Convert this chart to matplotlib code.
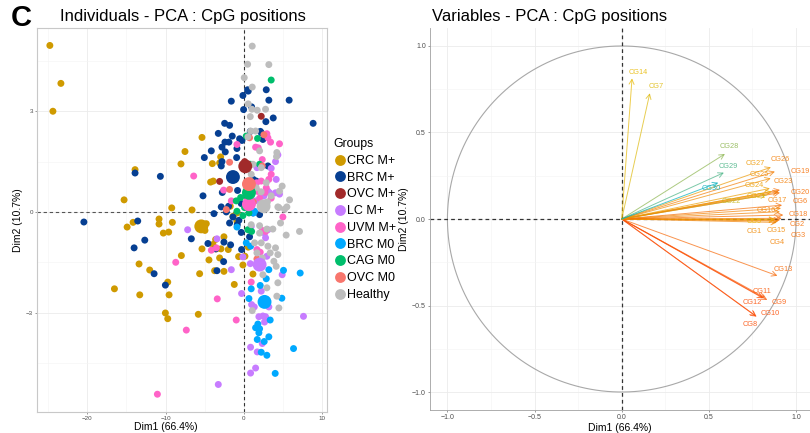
import numpy as np
import matplotlib
matplotlib.use('Agg')
import matplotlib.pyplot as plt
from matplotlib.lines import Line2D
from matplotlib.colors import LinearSegmentedColormap

plt.rcParams['font.family'] = ['Liberation Sans', 'DejaVu Sans']

# ---- individuals (Dim1, Dim2) per group ----
groups = ['CRC M+', 'BRC M+', 'OVC M+', 'LC M+', 'UVM M+', 'BRC M0', 'CAG M0', 'OVC M0', 'Healthy']
group_colors = ['#CF9A00', '#063F92', '#A12A2A', '#C77CFF', '#FF63C8', '#00A9FF', '#00BE6C', '#F8766D', '#BDBDBD']

crc_mp = [(-24.76, 4.96), (-23.35, 3.83), (-24.37, 3.00), (-13.89, 1.26), (-15.29, 0.36), (-16.52, -2.29),
          (-14.90, -0.45), (-14.14, -0.31), (-13.38, -1.55), (-13.29, -2.47), (-12.02, -1.73), (-10.83, -0.21),
          (-10.83, -0.36), (-10.28, -0.63), (-9.60, -0.60), (-9.13, -0.31), (-9.21, 0.12), (-9.72, -2.09),
          (-9.55, -2.47), (-10.02, -3.01), (-9.72, -3.18), (-7.98, -1.30), (-8.03, 1.43), (-7.52, 1.80),
          (-6.62, 0.06), (-5.65, -1.84), (-5.82, -3.05), (-5.35, 2.22), (-5.35, -1.10), (-4.97, -0.55),
          (-5.22, -0.38), (-5.65, -0.46), (-4.80, -0.35), (-4.25, 0.89), (-3.91, 0.92), (-4.03, 1.44),
          (-3.10, 1.46), (-2.97, 1.64), (-4.46, -1.43), (-3.74, -1.75), (-3.52, -1.10), (-3.61, -0.82),
          (-2.93, -1.10), (-2.55, -0.74), (-2.00, -1.12), (-2.55, -1.77), (-1.23, -2.16), (-0.68, -1.33),
          (-0.13, -1.58), (0.13, -1.32), (0.55, -1.05), (1.15, -1.85), (-1.40, -0.13), (-0.89, -0.03),
          (-0.89, -0.28), (-1.74, 0.17), (-3.10, -1.37), (-3.95, -0.97)]
brc_mp = [(-20.42, -0.30), (-13.55, -0.27), (-12.65, -0.84), (-14.01, -1.07), (-11.46, -1.84), (-10.02, -2.18),
          (-13.89, 1.16), (-10.66, 1.06), (-1.61, 3.30), (-0.13, 3.47), (0.47, 3.64), (0.55, 3.60), (0.98, 3.13),
          (-0.04, 3.05), (2.85, 3.64), (3.18, 3.33), (5.77, 3.33), (3.74, 2.80), (2.80, 2.69), (8.83, 2.64),
          (-2.46, 2.64), (-1.83, 2.58), (-3.27, 2.34), (-1.49, 2.26), (-0.55, 2.18), (-2.42, 2.08), (-1.92, 2.08),
          (-2.80, 1.93), (-0.25, 2.13), (-2.38, 1.79), (-4.16, 1.82), (-0.89, 1.89), (-5.05, 1.62), (-2.80, 1.50),
          (-2.89, 1.37), (-0.93, 1.62), (2.42, 2.16), (2.25, 2.35), (2.10, 2.40), (0.81, 2.40), (-5.22, 0.48),
          (-2.76, 0.58), (-0.81, 0.64), (3.06, 1.37), (1.19, 0.97), (1.57, 0.92), (-3.82, -0.05), (-2.89, 0.15),
          (-1.95, 0.17), (-2.25, 0.00), (-0.34, 0.25), (-1.40, -0.15), (-0.64, -0.25), (-1.83, -0.33),
          (-0.85, -0.38), (-0.34, -0.61), (0.72, -0.74), (-6.71, -0.80), (-4.59, -0.94), (-3.61, -1.10),
          (-2.55, -0.90), (-1.70, -0.98), (-2.59, -1.48), (-3.44, -1.75), (-0.30, -1.12), (2.00, -0.08),
          (1.15, -0.03)]
ovc_mp = [(-3.10, 0.91), (2.21, 2.85), (0.10, 1.50)]
lc_mp = [(4.33, 1.70), (4.03, 1.50), (3.48, 1.30), (1.66, 1.32), (4.12, 0.97), (3.06, 0.62), (3.27, 0.57),
         (4.03, 0.57), (4.54, 0.53), (2.55, 0.48), (1.49, 0.33), (-7.18, -0.53), (-3.44, -0.80), (-1.61, -1.72),
         (-0.30, -2.43), (-0.13, -1.34), (0.81, -1.54), (2.93, -1.32), (4.88, -1.87), (0.98, -2.76),
         (1.32, -2.83), (2.21, -2.36), (3.18, -2.83), (1.91, -3.12), (2.76, -3.12), (2.42, -3.10), (2.63, -3.28),
         (7.60, -3.11), (0.85, -4.03), (1.70, -4.17), (2.34, -3.92), (0.85, -4.80), (1.49, -4.65), (-3.27, -5.14),
         (3.06, -0.53), (2.63, -0.63), (0.93, -0.43), (2.76, -0.77)]
uvm_mp = [(2.93, 2.33), (4.54, 2.03), (3.40, 2.08), (-0.89, 2.01), (-6.41, 1.07), (3.06, 2.21), (1.49, 1.93),
          (1.83, 1.91), (2.34, 1.56), (3.48, 1.12), (3.18, 0.97), (2.21, 0.92), (2.85, 0.72), (2.68, 0.58),
          (2.00, 0.41), (1.78, 0.61), (3.48, 0.41), (-2.59, 0.65), (-1.61, 0.33), (1.62, 0.87), (4.97, -0.15),
          (2.34, -0.55), (2.76, -0.58), (-3.52, -1.07), (-4.16, -1.14), (1.66, -1.12), (2.08, -1.20),
          (0.93, -2.09), (-3.40, -2.59), (-0.98, -3.22), (-7.35, -3.52), (-8.70, -1.50), (-11.04, -5.43)]
brc_m0 = [(1.23, -0.03), (-0.89, -0.45), (0.30, -0.92), (0.85, -1.02), (3.18, -1.72), (5.05, -1.74),
          (7.18, -1.82), (2.85, -1.99), (2.08, -2.19), (0.93, -2.29), (0.64, -2.58), (4.84, -2.57), (3.35, -3.22),
          (1.49, -3.45), (2.00, -3.48), (1.91, -3.60), (1.70, -3.80), (3.18, -3.72), (2.59, -3.86), (2.21, -4.18),
          (2.93, -4.27), (6.33, -4.07), (3.99, -4.81), (1.78, -3.34), (1.36, 0.02)]
cag_m0 = [(3.48, 3.93), (1.74, 2.19), (0.30, 2.26), (0.85, 1.42), (2.00, 1.42), (-0.42, 0.43), (-0.98, 0.33),
          (0.08, 0.13), (0.51, -0.53), (0.98, -0.58), (-0.13, -0.11), (-0.89, 0.02), (0.64, -0.03)]
ovc_m0 = [(-1.83, 1.48), (-1.83, 0.67), (0.72, 2.21), (2.34, 1.37), (-2.25, 0.07), (1.66, -1.40), (2.55, 2.30),
          (1.20, 0.30)]
healthy = [(1.06, 4.94), (0.47, 4.40), (3.18, 4.39), (0.04, 4.00), (1.06, 3.72), (0.55, 3.22), (0.81, 2.84),
           (1.70, 3.03), (2.76, 3.06), (1.02, 3.06), (1.49, 2.41), (0.85, 2.41), (0.51, 2.24), (2.00, 1.82),
           (4.20, 1.77), (4.16, 1.65), (1.15, 1.42), (2.21, 1.32), (0.93, 1.12), (4.88, 0.77), (4.54, 0.62),
           (5.82, 0.36), (5.18, 0.08), (4.46, 0.13), (3.48, 0.48), (2.85, 0.87), (1.57, 0.72), (4.33, 0.15),
           (5.48, 0.15), (4.67, -0.33), (5.39, -0.69), (7.09, -0.58), (3.69, -0.51), (2.93, -0.51), (2.00, -0.41),
           (1.36, -0.92), (2.21, -0.92), (3.06, -1.02), (4.03, -1.07), (3.35, -1.22), (4.33, -1.27), (3.82, -1.47),
           (2.34, -1.37), (4.12, -1.62), (4.33, -2.11), (2.42, -1.87), (2.93, -2.26), (4.20, -2.51), (4.46, -2.86),
           (1.06, -2.94), (1.66, -1.22), (2.00, -0.63), (0.93, -0.38), (3.00, 0.30), (2.20, 0.60)]
group_points = [crc_mp, brc_mp, ovc_mp, lc_mp, uvm_mp, brc_m0, cag_m0, ovc_m0, healthy]

# group centroids (large points)
centroids = [(-5.44, -0.43), (-1.40, 1.04), (0.17, 1.36), (2.00, -1.57), (0.64, 0.23),
             (2.63, -2.68), (0.64, 0.57), (0.64, 0.83), (2.51, 0.17)]

# ---- variables (correlation with Dim1, Dim2) and contribution ----
var_names = ['CG%d' % i for i in range(1, 31)]
var_dim1 = [0.880, 0.918, 0.908, 0.890, 0.880, 0.920, 0.161, 0.770, 0.835, 0.774,
            0.822, 0.812, 0.893, 0.059, 0.898, 0.908, 0.914, 0.927, 0.908, 0.908,
            0.860, 0.830, 0.900, 0.850, 0.855, 0.879, 0.856, 0.592, 0.586, 0.554]
var_dim2 = [-0.006, 0.004, -0.006, -0.020, -0.002, 0.080, 0.727, -0.561, -0.468, -0.565,
            -0.455, -0.458, -0.328, 0.813, -0.012, 0.042, 0.062, 0.023, 0.168, 0.152,
            0.158, 0.139, 0.158, 0.177, 0.235, 0.274, 0.299, 0.376, 0.268, 0.210]
var_contrib = [0.72, 0.85, 0.85, 0.75, 0.50, 0.85, 0.48, 1.00, 0.95, 1.00,
               0.95, 1.00, 0.88, 0.50, 0.72, 0.75, 0.75, 0.85, 0.85, 0.85,
               0.55, 0.42, 0.78, 0.62, 0.70, 0.78, 0.65, 0.30, 0.15, 0.00]

# label offsets from arrow tip (points), mimics the repelled labels
label_offset = [(-15, -8.6), (11, -4.1), (12.8, -11.3), (0.5, -14.2), (-15.1, -1.7), (13.1, 2.4),
                (4.3, 4.8), (-4.3, -6), (8.6, -1.9), (9.9, 2.4), (-2.2, 4.3), (-7.6, -3.2),
                (4.3, 4.6), (4.8, 4.3), (-1.2, -7), (-9.6, 0.7), (-2.5, 5.5), (10.4, 0.7),
                (14.4, 13.2), (14.9, 0), (-11.4, -3.6), (-25.2, -4.8), (3.6, 7.2), (-11.5, 2.4),
                (-8.4, 2.9), (3.6, 8.4), (-11, 2.4), (3, 5.3), (3.1, 4.3), (-5.3, -4.5)]

W, H = 810, 433
fig = plt.figure(figsize=(W / 100, H / 100), dpi=100)
ax1 = fig.add_axes([37 / W, 1 - 412 / H, 290 / W, 384 / H])
ax2 = fig.add_axes([430 / W, 1 - 410 / H, 380 / W, 382 / H])

grid_c = '#EBEBEB'
tick_c = '#4D4D4D'

# ---------------- left: individuals ----------------
ax1.set_xlim(-26.4, 10.6)
ax1.set_ylim(-5.96, 5.48)
ax1.set_xticks([-20, -10, 0, 10])
ax1.set_yticks([-3, 0, 3])
ax1.set_xticks([-25, -15, -5, 5], minor=True)
ax1.set_yticks([-4.5, -1.5, 1.5, 4.5], minor=True)
ax1.grid(True, which='major', color=grid_c, lw=0.6)
ax1.grid(True, which='minor', color='#F4F4F4', lw=0.4)
ax1.set_axisbelow(True)
ax1.tick_params(which='major', labelsize=4.5, colors=tick_c, length=1.5, width=0.4, pad=1.5)
ax1.tick_params(which='minor', length=0)
for s in ax1.spines.values():
    s.set_color('#C8C8C8')
    s.set_linewidth(0.8)
ax1.axhline(0, color='#555555', ls=(0, (3, 2.5)), lw=0.8, zorder=1)
ax1.axvline(0, color='#333333', ls=(0, (3, 2.5)), lw=0.8, zorder=1)

for pts, col in zip(group_points, group_colors):
    p = np.array(pts)
    ax1.scatter(p[:, 0], p[:, 1], s=25, color=col, edgecolors='none', zorder=3)
for (cx, cy), col in zip(centroids, group_colors):
    ax1.scatter([cx], [cy], s=100, color=col, edgecolors='none', zorder=4)

ax1.set_xlabel('Dim1 (66.4%)', fontsize=7.5, labelpad=2)
ax1.xaxis.set_label_coords(0.445, -0.025, transform=ax1.transAxes)
ax1.set_ylabel('Dim2 (10.7%)', fontsize=7.5, labelpad=2)

handles = [Line2D([], [], ls='none', marker='o', markersize=7.8, color=c, markeredgewidth=0) for c in group_colors]
fig.legend(handles, groups, title='Groups', loc='upper left', bbox_to_anchor=(327 / W, 1 - 132 / H),
           frameon=False, fontsize=9, title_fontsize=8.8, labelspacing=0.38, handletextpad=0.1,
           handlelength=1.0, borderpad=0, alignment='left')

# ---------------- right: variables ----------------
ax2.set_xlim(-1.10, 1.08)
ax2.set_ylim(-1.104, 1.104)
ax2.set_xticks([-1.0, -0.5, 0.0, 0.5, 1.0])
ax2.set_yticks([-1.0, -0.5, 0.0, 0.5, 1.0])
ax2.set_xticks([-0.75, -0.25, 0.25, 0.75], minor=True)
ax2.set_yticks([-0.75, -0.25, 0.25, 0.75], minor=True)
ax2.grid(True, which='major', color=grid_c, lw=0.6)
ax2.grid(True, which='minor', color='#F4F4F4', lw=0.4)
ax2.set_axisbelow(True)
ax2.tick_params(which='major', labelsize=5, colors=tick_c, length=1.5, width=0.4, pad=1.5)
ax2.tick_params(which='minor', length=0)
for side in ['top', 'right']:
    ax2.spines[side].set_visible(False)
for side in ['left', 'bottom']:
    ax2.spines[side].set_color('#A0A0A0')
    ax2.spines[side].set_linewidth(0.6)

theta = np.linspace(0, 2 * np.pi, 400)
ax2.plot(np.cos(theta), np.sin(theta), color='#A8A8A8', lw=0.8, zorder=2)
ax2.axhline(0, color='#333333', ls=(0, (3, 2.5)), lw=0.9, zorder=2)
ax2.axvline(0, color='#333333', ls=(0, (3, 2.5)), lw=0.9, zorder=2)

cmap = LinearSegmentedColormap.from_list('contrib', ['#00AFBB', '#E7B800', '#FC4E07'])
for name, vx, vy, c, off in zip(var_names, var_dim1, var_dim2, var_contrib, label_offset):
    col = cmap(c)
    ax2.annotate('', xy=(vx, vy), xytext=(0, 0),
                 arrowprops=dict(arrowstyle='->,head_length=0.35,head_width=0.18', color=col,
                                 lw=0.7, alpha=0.7, shrinkA=0, shrinkB=0), zorder=3)
    ax2.annotate(name, xy=(vx, vy), xytext=off, textcoords='offset points', ha='center', va='center',
                 fontsize=5.3, color=col, alpha=0.85, zorder=4)

ax2.set_xlabel('Dim1 (66.4%)', fontsize=7.5, labelpad=1)
ax2.set_ylabel('Dim2 (10.7%)', fontsize=7.5, labelpad=2)

# titles
fig.text(60 / W, 1 - 17 / H, 'Individuals - PCA : CpG positions', fontsize=12.0, va='center', ha='left')
fig.text(432 / W, 1 - 17 / H, 'Variables - PCA : CpG positions', fontsize=12.0, va='center', ha='left')
fig.text(11 / W, 1 - 18 / H, 'C', fontsize=21, fontweight='bold', va='center', ha='left')

fig.savefig('out.png', dpi=100)
